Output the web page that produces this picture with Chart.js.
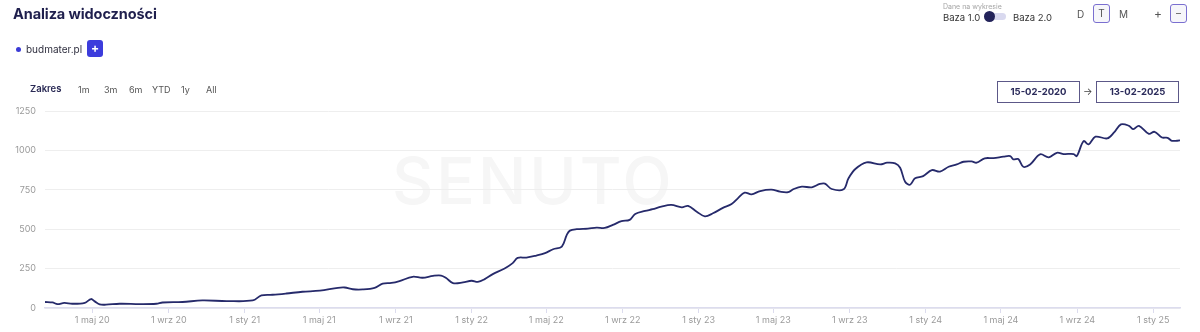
<!DOCTYPE html>
<html lang="pl">
<head>
<meta charset="utf-8">
<script src="https://cdn.jsdelivr.net/npm/chart.js@4/dist/chart.umd.min.js"></script>
<style>
  html, body { margin: 0; padding: 0; background: #fff; }
  body { width: 1200px; height: 332px; position: relative; overflow: hidden; font-family: Inter, "Open Sans", sans-serif; }
  .abs { position: absolute; white-space: nowrap; }
  #wm { left: 392px; top: 142px; font-size: 64px; font-weight: 500; color: #f6f6f6; letter-spacing: 3px; }
  #chart { position: absolute; left: 0; top: 0; }
  .title { left: 13px; top: 5px; font-size: 14.5px; font-weight: 700; color: #1f1f4d; letter-spacing: -0.1px; }
  .dot { left: 16px; top: 47px; width: 5px; height: 5px; border-radius: 50%; background: #3b3bd6; }
  .site { left: 26px; top: 43px; font-size: 10px; color: #2f2f3f; }
  .plus { left: 87px; top: 40px; width: 16px; height: 17px; border-radius: 3px; background: #3c3cdc; color: #fff; font-size: 12px; font-weight: 700; text-align: center; line-height: 16px; }
  .zak { left: 30px; top: 83px; font-size: 9.5px; font-weight: 600; color: #2a2a55; }
  .rng { top: 84px; font-size: 9px; color: #555; }
  .dane { left: 943px; top: 2px; font-size: 7px; color: #a5a5a5; }
  .baza { top: 12px; font-size: 9.5px; color: #333; }
  .track { left: 990px; top: 13px; width: 16px; height: 7px; border-radius: 4px; background: #d9d9ef; }
  .knob { left: 984px; top: 11px; width: 11px; height: 11px; border-radius: 50%; background: #23235a; }
  .btn { top: 8px; font-size: 10px; color: #555; }
  .box { top: 4px; width: 17px; height: 19px; border: 1.5px solid #7a6fd0; border-radius: 3px; background: #f6f6fa; box-sizing: border-box; text-align: center; line-height: 16px; font-size: 10px; color: #555; }
  .date { top: 81px; width: 83px; height: 22px; border: 1.5px solid #5c5888; box-sizing: border-box; text-align: center; line-height: 19px; font-size: 9.5px; font-weight: 700; color: #2a2a5a; }
  .arrow { left: 1083px; top: 85px; font-size: 10px; color: #444; }
</style>
</head>
<body>
<div id="wm" class="abs">SENUTO</div>
<canvas id="chart" width="1200" height="332"></canvas>

<div class="abs title">Analiza widoczności</div>
<div class="abs dot"></div>
<div class="abs site">budmater.pl</div>
<div class="abs plus">+</div>

<div class="abs zak">Zakres</div>
<div class="abs rng" style="left:78px">1m</div>
<div class="abs rng" style="left:104px">3m</div>
<div class="abs rng" style="left:129px">6m</div>
<div class="abs rng" style="left:152px">YTD</div>
<div class="abs rng" style="left:181px">1y</div>
<div class="abs rng" style="left:206px">All</div>

<div class="abs dane">Dane na wykresie</div>
<div class="abs baza" style="left:943px">Baza 1.0</div>
<div class="abs track"></div>
<div class="abs knob"></div>
<div class="abs baza" style="left:1013px">Baza 2.0</div>
<div class="abs btn" style="left:1077px">D</div>
<div class="abs box" style="left:1093px">T</div>
<div class="abs btn" style="left:1119px">M</div>
<div class="abs btn" style="left:1154px; font-size:12px; top:6px">+</div>
<div class="abs box" style="left:1170px">–</div>

<div class="abs date" style="left:997px">15-02-2020</div>
<div class="abs arrow">→</div>
<div class="abs date" style="left:1096px">13-02-2025</div>

<script>
var startDate = '2020-02-15';
var endDate = '2025-02-13';

var pointDates = [
  '2020-02-15', '2020-02-27', '2020-03-06', '2020-03-17', '2020-03-30', '2020-04-19', '2020-04-29',
  '2020-05-05', '2020-05-13', '2020-05-23', '2020-06-14', '2020-07-16', '2020-08-12', '2020-08-22',
  '2020-09-23', '2020-10-25', '2020-12-03', '2021-01-14', '2021-01-28', '2021-02-15', '2021-03-09',
  '2021-04-04', '2021-05-02', '2021-05-31', '2021-06-11', '2021-06-24', '2021-07-10', '2021-07-29',
  '2021-08-11', '2021-08-25', '2021-09-07', '2021-09-28', '2021-10-14', '2021-10-31', '2021-11-13',
  '2021-11-21', '2021-12-02', '2021-12-18', '2022-01-01', '2022-01-11', '2022-01-22', '2022-02-04',
  '2022-02-23', '2022-03-08', '2022-03-16', '2022-03-30', '2022-04-15', '2022-04-29', '2022-05-12',
  '2022-05-26', '2022-06-03', '2022-06-08', '2022-06-19', '2022-07-07', '2022-07-21', '2022-08-03',
  '2022-08-16', '2022-08-30', '2022-09-12', '2022-09-21', '2022-10-07', '2022-10-19', '2022-11-02',
  '2022-11-18', '2022-12-05', '2022-12-15', '2022-12-29', '2023-01-11', '2023-01-24', '2023-02-09',
  '2023-02-23', '2023-03-05', '2023-03-16', '2023-03-27', '2023-04-10', '2023-04-28', '2023-05-12',
  '2023-05-25', '2023-06-03', '2023-06-16', '2023-07-02', '2023-07-15', '2023-07-23', '2023-08-03',
  '2023-08-22', '2023-08-30', '2023-09-10', '2023-09-28', '2023-10-20', '2023-10-31', '2023-11-13',
  '2023-11-21', '2023-11-29', '2023-12-07', '2023-12-15', '2023-12-28', '2024-01-11', '2024-01-24',
  '2024-02-07', '2024-02-20', '2024-03-02', '2024-03-15', '2024-03-23', '2024-04-05', '2024-04-19',
  '2024-05-05', '2024-05-16', '2024-05-21', '2024-05-29', '2024-06-06', '2024-06-17', '2024-07-03',
  '2024-07-17', '2024-07-30', '2024-08-10', '2024-08-26', '2024-08-31', '2024-09-11', '2024-09-19',
  '2024-09-30', '2024-10-19', '2024-10-30', '2024-11-10', '2024-11-23', '2024-11-30', '2024-12-09',
  '2024-12-25', '2025-01-03', '2025-01-15', '2025-01-24', '2025-01-31', '2025-02-13'
];

var visibility = [
  38, 35, 25, 32, 27, 33, 57,
  42, 23, 21, 27, 25, 27, 35,
  38, 48, 44, 48, 80, 84, 92,
  103, 110, 128, 130, 119, 118, 128,
  154, 159, 171, 198, 192, 204, 206,
  190, 158, 162, 173, 166, 183, 215,
  251, 285, 318, 320, 333, 348, 373,
  390, 464, 491, 500, 504, 510, 508,
  527, 551, 559, 597, 616, 627, 643,
  654, 639, 648, 611, 582, 601, 635,
  660, 696, 732, 721, 742, 751, 738,
  735, 755, 770, 766, 787, 789, 755,
  753, 823, 882, 924, 911, 922, 918,
  890, 801, 782, 823, 837, 875, 865,
  896, 911, 928, 930, 922, 950, 951,
  960, 964, 943, 945, 896, 911, 975,
  956, 985, 977, 977, 964, 1059, 1038,
  1087, 1076, 1114, 1165, 1156, 1135, 1156,
  1105, 1118, 1082, 1080, 1061, 1063
];

var tickDates = [
  '2020-05-01', '2020-09-01', '2021-01-01', '2021-05-01', '2021-09-01', '2022-01-01', '2022-05-01',
  '2022-09-01', '2023-01-01', '2023-05-01', '2023-09-01', '2024-01-01', '2024-05-01', '2024-09-01',
  '2025-01-01'
];
var tickLabels = [
  '1 maj 20', '1 wrz 20', '1 sty 21', '1 maj 21', '1 wrz 21', '1 sty 22', '1 maj 22',
  '1 wrz 22', '1 sty 23', '1 maj 23', '1 wrz 23', '1 sty 24', '1 maj 24', '1 wrz 24',
  '1 sty 25'
];

function dayNo(s) {
  return (Date.parse(s) - Date.parse(startDate)) / 864e5;
}

var points = pointDates.map(function (d, i) {
  return { x: dayNo(d), y: visibility[i] };
});

new Chart(document.getElementById('chart').getContext('2d'), {
  type: 'line',
  data: {
    datasets: [{
      label: 'budmater.pl',
      data: points,
      borderColor: '#262a6b',
      borderWidth: 1.8,
      pointRadius: 0,
      tension: 0.35,
      fill: false
    }]
  },
  options: {
    responsive: false,
    animation: false,
    layout: { padding: { top: 111, right: 20, left: 0, bottom: 0 } },
    plugins: { legend: { display: false }, tooltip: { enabled: false } },
    scales: {
      x: {
        type: 'linear',
        min: 0,
        max: dayNo(endDate),
        afterBuildTicks: function (s) {
          s.ticks = tickDates.map(function (d) { return { value: dayNo(d) }; });
        },
        afterFit: function (s) { s.height = 24; },
        ticks: {
          autoSkip: false,
          maxRotation: 0,
          padding: 2,
          color: '#9a9a9a',
          font: { family: 'Inter', size: 9 },
          callback: function (v, i) { return tickLabels[i]; }
        },
        grid: { drawOnChartArea: false, drawTicks: true, tickLength: 5, color: '#dcdcee' },
        border: { color: '#dcdcee', width: 1.5 }
      },
      y: {
        min: 0,
        max: 1250,
        afterFit: function (s) { s.width = 45; },
        ticks: {
          stepSize: 250,
          padding: 9,
          color: '#9a9a9a',
          font: { family: 'Inter', size: 9 },
          callback: function (v) { return String(v); }
        },
        grid: { color: '#eeeeee', drawTicks: false },
        border: { display: false }
      }
    }
  }
});
</script>
</body>
</html>
